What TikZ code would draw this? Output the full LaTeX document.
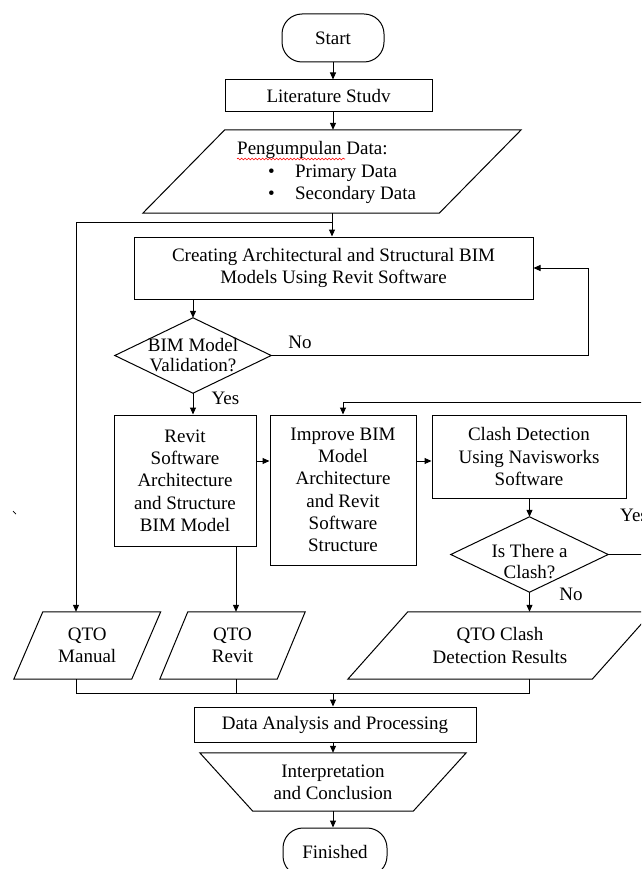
\documentclass[tikz,border=0pt]{standalone}
\usepackage{fontspec}
\setmainfont{Liberation Serif}
\usetikzlibrary{arrows.meta,calc,decorations.pathmorphing}
\newcommand{\paragr}[2]{\draw[line] ([xshift=#2]#1.north west) -- ([xshift=#2]#1.north east) -- ([xshift=-#2]#1.south east) -- ([xshift=-#2]#1.south west) -- cycle;}
\newcommand{\diamd}[1]{\draw[line] (#1.north) -- (#1.east) -- (#1.south) -- (#1.west) -- cycle;}
\tikzset{
  base/.style={font=\fontsize{19}{22.3}\selectfont, align=center, inner sep=0pt},
  box/.style={base, draw, line width=1pt, rectangle},
  term/.style={box, rounded corners=20pt},
  shp/.style={base, draw=none},
  line/.style={line width=1pt},
  arr/.style={line, -{Triangle[length=7pt,width=6pt]}},
  lbl/.style={base}
}
\begin{document}
\begin{tikzpicture}[x=1pt,y=-1pt]
\path[use as bounding box, clip] (0,0) rectangle (641,869);
\fill[white] (0,0) rectangle (641,869);

% nodes
\node[term, minimum width=102pt, minimum height=48pt] (start) at (333,38) {Start};
\node[box, minimum width=207pt, minimum height=32pt] (lit) at (328.5,96) {Literature Studv};
\node[shp, minimum width=296pt, minimum height=83pt] (data) at (332,171.5) {};
\paragr{data}{41}
\node[base, anchor=west, align=left] (datatxt) at (237,172.5) {Pengumpulan Data:\\\hspace*{31pt}\makebox[27pt][l]{\textbullet}Primary Data\\\hspace*{31pt}\makebox[27pt][l]{\textbullet}Secondary Data};
\draw[red, line width=0.6pt, decorate, decoration={snake, amplitude=0.9pt, segment length=3.5pt}] (237,159) -- (345,159);

\node[box, minimum width=399pt, minimum height=62pt] (create) at (333.5,268) {Creating Architectural and Structural BIM\\Models Using Revit Software};
\node[shp, minimum width=156pt, minimum height=75pt, font=\fontsize{19}{20}\selectfont] (d1) at (193,355.5) {BIM Model\\Validation?};
\diamd{d1}

\node[box, minimum width=142pt, minimum height=131pt] (revit) at (185,480.5) {Revit\\Software\\Architecture\\and Structure\\BIM Model};
\node[box, minimum width=146pt, minimum height=150pt] (improve) at (343,490) {Improve BIM\\Model\\Architecture\\and Revit\\Software\\Structure};
\node[box, minimum width=194pt, minimum height=83pt] (clash) at (529,456.5) {Clash Detection\\Using Navisworks\\Software};
\node[shp, minimum width=157pt, minimum height=75pt] (d2) at (529.5,554.5) {};
\diamd{d2}
\node[base, font=\fontsize{19}{21}\selectfont] (d2t) at (529.5,562) {Is There a\\Clash?};

\node[shp, minimum width=117.5pt, minimum height=67pt] (qman) at (87.25,645.5) {QTO\\Manual};
\paragr{qman}{14.5}
\node[shp, minimum width=117pt, minimum height=67pt] (qrevit) at (232.5,645.5) {QTO\\Revit};
\paragr{qrevit}{14}
\node[shp, minimum width=244pt, minimum height=67pt] (qclash) at (500,645.5) {QTO Clash\\Detection Results};
\paragr{qclash}{30}

\node[box, minimum width=282pt, minimum height=35pt] (analysis) at (335,724.5) {Data Analysis and Processing};
\node[shp, minimum width=266pt, minimum height=58pt] (interp) at (333,782) {Interpretation\\and Conclusion};
\draw[line] (interp.north west) -- (interp.north east) -- ([xshift=-53pt]interp.south east) -- ([xshift=53pt]interp.south west) -- cycle;
\node[term, minimum width=104pt, minimum height=48pt] (fin) at (335,852) {Finished};

% labels
\node[lbl] (no1) at (300,342) {No};
\node[lbl] (yes1) at (225.5,398) {Yes};
\node[lbl, anchor=west] (yes2) at (620,515) {Yes};
\node[lbl] (no2) at (571,594) {No};

% stray mark
\draw[line width=0.7pt] (13,511) -- (16,514);

% connectors
\coordinate (lx) at (76,222);
\coordinate (nox) at (588,0);
\coordinate (ay) at (0,461);
\coordinate (ry) at (690,402);
\coordinate (rx) at (236,0);
\coordinate (by) at (0,693);

\draw[arr] (start.south) -- (start.south |- lit.north);
\draw[arr] (start.south |- lit.south) -- (start.south |- data.north);
\draw[arr] (data.south) -- (data.south |- create.north);
\draw[arr] (data.south |- lx) -- (lx) -- (lx |- qman.north);
\draw[arr] (d1.north |- create.south) -- (d1.north);
\draw[arr] (d1.east) -- (d1.east -| nox) |- (create.east);
\draw[arr] (d1.south) -- (d1.south |- revit.north);
\draw[arr] (revit.east |- ay) -- (improve.west |- ay);
\draw[arr] (improve.east |- ay) -- (clash.west |- ay);
\draw[arr] (d2.north |- clash.south) -- (d2.north);
\draw[arr] (d2.east) -| (ry) -| (improve.north);
\draw[arr] (d2.south) -- (d2.south |- qclash.north);
\draw[arr] (revit.south -| rx) -- (qrevit.north -| rx);
\draw[line] (qman.south -| lx) -- (lx |- by) -- (d2.south |- by) -- (d2.south |- qclash.south);
\draw[line] (qrevit.south -| rx) -- (rx |- by);
\draw[arr] (start.south |- by) -- (start.south |- analysis.north);
\draw[arr] (start.south |- analysis.south) -- (start.south |- interp.north);
\draw[arr] (start.south |- interp.south) -- (start.south |- fin.north);
\end{tikzpicture}
\end{document}
